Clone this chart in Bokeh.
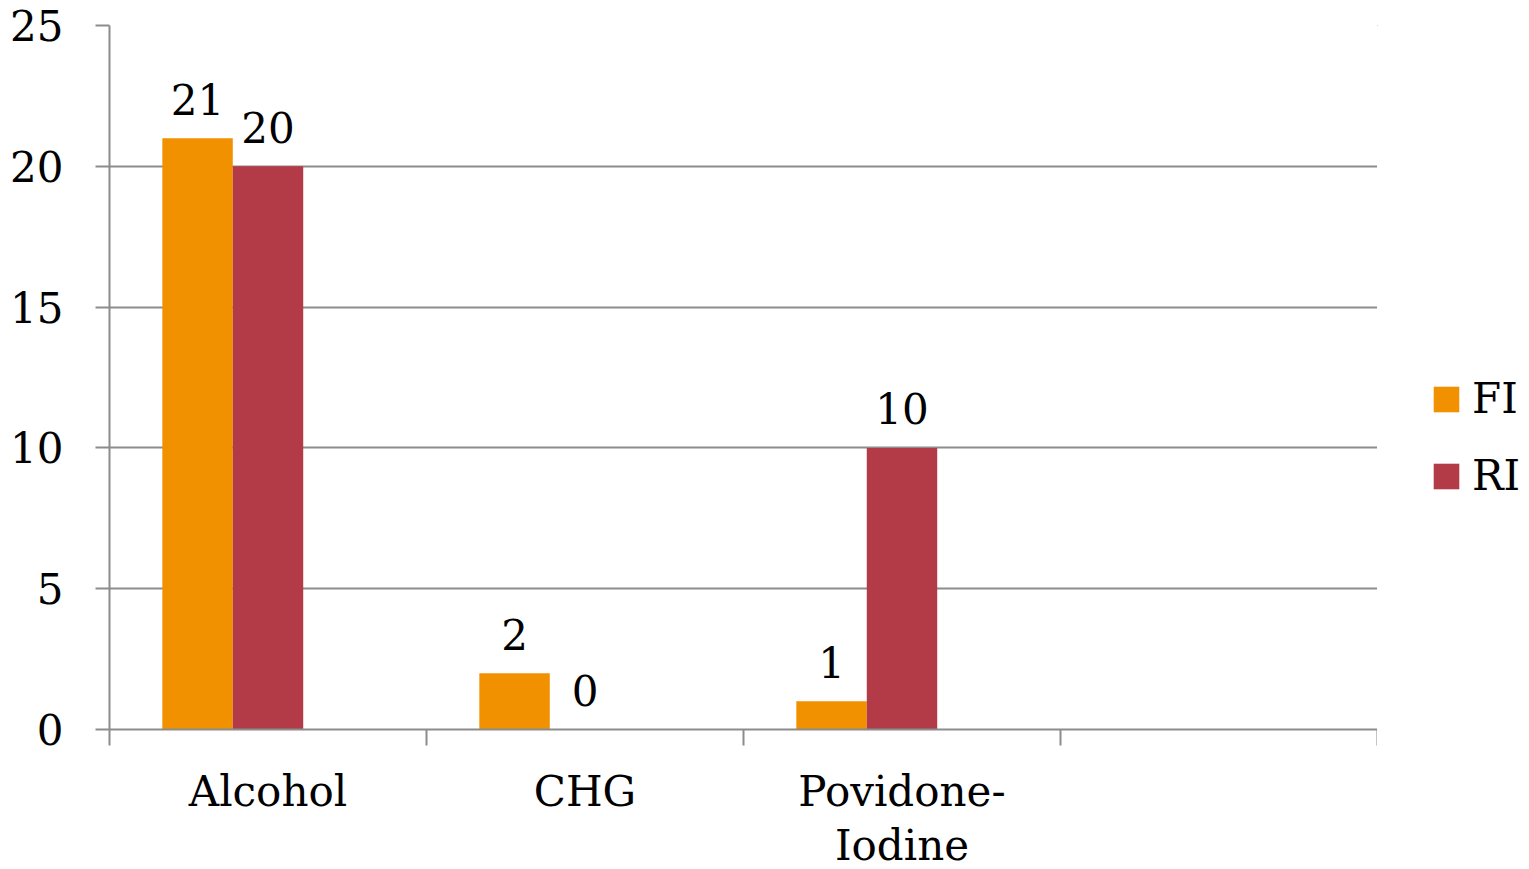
import numpy as np
from bokeh.plotting import figure
from bokeh.layouts import row
from bokeh.models import (ColumnDataSource, Range1d, FixedTicker, Legend, LegendItem)
from bokeh.core.properties import value
from bokeh.embed import file_html
from bokeh.resources import INLINE

# ---- data ----
categories = ["Alcohol", "CHG", "Povidone-\nIodine", ""]
series_names = ["FI", "RI"]
fi_values = [21, 2, 1]
ri_values = [20, 0, 10]
y_ticks = [0, 5, 10, 15, 20, 25]

FONT = "DejaVu Serif"
FS = "42px"
AXIS_COLOR = "#8c8c8c"
COLORS = {"FI": "#f29100", "RI": "#b33b47"}

n_series_slots = 3          # chart reserves space for three series per group
gap = 1.5                   # gap width as a fraction of one bar
bar_w = 1.0 / (n_series_slots + gap)
offsets = {"FI": -bar_w, "RI": 0.0}

p = figure(frame_width=1268, frame_height=704, output_backend="svg", toolbar_location=None,
           x_range=Range1d(0, len(categories)), y_range=Range1d(0, 25),
           min_border_left=109, min_border_right=0, min_border_top=25,
           min_border_bottom=0)
p.outline_line_color = None
p.background_fill_color = "white"
p.border_fill_color = "white"

# legend panel to the right of the chart (its own frame shows no data)
lg = figure(width=152, height=869, output_backend="svg", toolbar_location=None,
            x_range=Range1d(100, 101), y_range=Range1d(-1000, -999),
            x_axis_location=None, y_axis_location=None, min_border=0)
lg.outline_line_color = None
lg.grid.grid_line_color = None

items = []
for name, vals in (("FI", fi_values), ("RI", ri_values)):
    idx = np.arange(len(vals))
    src = ColumnDataSource(dict(x=idx + 0.5 + offsets[name], top=vals,
                                label=[str(v) for v in vals]))
    p.vbar(x="x", top="top", width=bar_w, bottom=0, source=src,
           fill_color=COLORS[name], line_color=None)
    p.text(x="x", y="top", text="label", source=src, text_align="center",
           text_baseline="alphabetic", y_offset=-39, text_font=value(FONT),
           text_font_size=FS, text_color="black")
    r = lg.vbar(x="x", top="top", width=bar_w, bottom=0, source=src,
                fill_color=COLORS[name], line_color=None)
    items.append(LegendItem(label=name, renderers=[r]))

# x axis: labels at category centres, tick marks at category boundaries
xa = p.xaxis[0]
xa.ticker = FixedTicker(ticks=[i + 0.5 for i in range(len(categories))],
                        minor_ticks=list(range(len(categories) + 1)))
xa.major_label_overrides = {i + 0.5: c for i, c in enumerate(categories)}
xa.major_tick_out = 0
xa.major_tick_in = 0
xa.minor_tick_out = 16
xa.minor_tick_in = 0
xa.minor_tick_line_color = AXIS_COLOR
xa.minor_tick_line_width = 2
xa.axis_line_color = AXIS_COLOR
xa.axis_line_width = 2
xa.major_label_text_font = FONT
xa.major_label_text_font_size = FS
xa.major_label_text_color = "black"
xa.major_label_text_line_height = 1.12
xa.major_label_standoff = 21

ya = p.yaxis[0]
ya.ticker = FixedTicker(ticks=y_ticks, minor_ticks=[])
ya.major_tick_out = 14
ya.major_tick_in = 0
ya.major_tick_line_color = AXIS_COLOR
ya.major_tick_line_width = 2
ya.minor_tick_line_color = None
ya.axis_line_color = AXIS_COLOR
ya.axis_line_width = 2
ya.major_label_text_font = FONT
ya.major_label_text_font_size = FS
ya.major_label_text_color = "black"
ya.major_label_standoff = 32

p.xgrid.grid_line_color = None
p.ygrid.grid_line_color = AXIS_COLOR
p.ygrid.grid_line_width = 2
p.ygrid.ticker = FixedTicker(ticks=y_ticks[1:])

legend = Legend(items=items, location=(53, 225), label_text_font=FONT,
                label_text_font_size=FS, label_text_color="black",
                glyph_width=32, glyph_height=32, label_standoff=10, spacing=28,
                border_line_color=None, background_fill_alpha=0, padding=0,
                margin=0)
lg.add_layout(legend, "center")

layout = row(p, lg, spacing=0)
open("out.html", "w").write(file_html(layout, INLINE))
